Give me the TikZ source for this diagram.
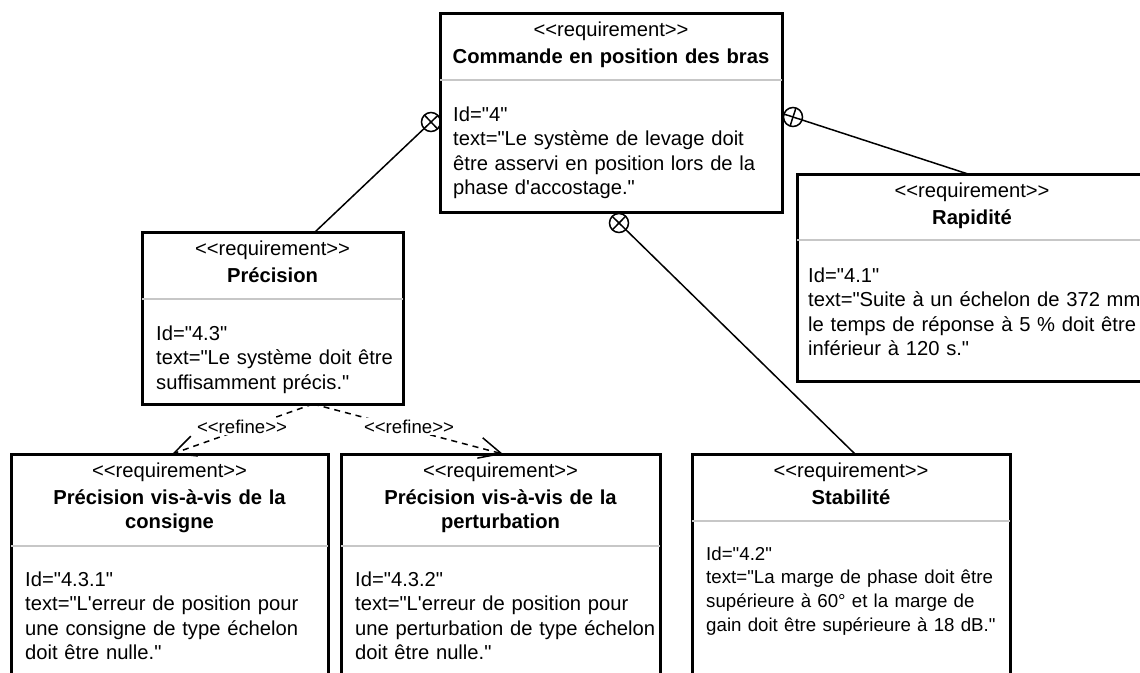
\documentclass[tikz,border=0pt]{standalone}
\usepackage{fontspec}
\setmainfont{Liberation Sans}[Ligatures=TeXOff]
\usetikzlibrary{calc,arrows.meta}

% containment link: circled plus at the parent end, turned along the link
\newcommand\containlink[2]{%
  \draw[link] (#1) circle[radius=9.5];
  \draw[link] ($(#1)!9.5pt!(#2)$) -- ($(#1)!-9.5pt!(#2)$);
  \draw[link] ($(#1)!9.5pt!90:(#2)$) -- ($(#1)!9.5pt!-90:(#2)$);
  \draw[link] ($(#1)!9.5pt!(#2)$) -- (#2);
}

\begin{document}
\begin{tikzpicture}[x=1pt,y=-1pt,
  reqbox/.style={draw=black, line width=3pt, fill=white, anchor=north west,
    inner sep=0pt, outer sep=0pt},
  sepline/.style={draw=black!22, line width=2pt},
  stereo/.style={font=\fontsize{20.2}{24.5}\selectfont, anchor=base, inner sep=0pt},
  reqname/.style={font=\fontsize{20.2}{24.5}\selectfont\bfseries, anchor=base,
    inner sep=0pt, text width=330pt, align=center},
  attrs/.style={font=\fontsize{20.2}{24.5}\selectfont, anchor=base west,
    inner sep=0pt, text width=420pt, align=left},
  smallattrs/.style={attrs, font=\fontsize{18.7}{23.8}\selectfont},
  lbl/.style={font=\fontsize{18.6}{22}\selectfont, anchor=base, fill=white,
    inner xsep=1pt, inner ysep=2pt},
  link/.style={draw=black, line width=1.5pt},
  refine/.style={draw=black, line width=1.5pt, dash pattern=on 6pt off 5pt,
    -{Straight Barb[length=22pt,width=21pt]}},
]
\useasboundingbox (0,0) rectangle (1140,672);
\clip (0,0) rectangle (1140,672);
\fill[white] (0,0) rectangle (1140,672);

% ---- requirement blocks ----
\node[reqbox, minimum width=342pt, minimum height=199pt] (cmd) at (440,13) {};
\node[reqbox, minimum width=261pt, minimum height=172pt] (prec) at (142,232) {};
\node[reqbox, minimum width=350pt, minimum height=207pt] (rap) at (797,174) {};
\node[reqbox, minimum width=317pt, minimum height=246pt] (cons) at (11,454) {};
\node[reqbox, minimum width=319pt, minimum height=246pt] (pert) at (341,454) {};
\node[reqbox, minimum width=318pt, minimum height=246pt] (stab) at (692,454) {};

% header / body separators
\draw[sepline] ($(cmd.north west)+(0,67)$) -- ($(cmd.north east)+(0,67)$);
\draw[sepline] ($(prec.north west)+(0,67)$) -- ($(prec.north east)+(0,67)$);
\draw[sepline] ($(rap.north west)+(0,66)$) -- ($(rap.north east)+(0,66)$);
\draw[sepline] ($(cons.north west)+(0,92)$) -- ($(cons.north east)+(0,92)$);
\draw[sepline] ($(pert.north west)+(0,92)$) -- ($(pert.north east)+(0,92)$);
\draw[sepline] ($(stab.north west)+(0,67)$) -- ($(stab.north east)+(0,67)$);

% ---- Commande en position des bras ----
\node[stereo] (cmd-st) at ($(cmd.north)+(0,23)$) {<<requirement>>};
\node[reqname] (cmd-nm) at ($(cmd.north)+(0,50)$) {Commande en position des bras};
\node[attrs] (cmd-at) at ($(cmd.north west)+(13,108)$)
  {Id="4"\\text="Le système de levage doit\\être asservi en position lors de la\\phase d'accostage."};

% ---- Précision ----
\node[stereo] (prec-st) at ($(prec.north)+(0,23)$) {<<requirement>>};
\node[reqname] (prec-nm) at ($(prec.north)+(0,50)$) {Précision};
\node[attrs] (prec-at) at ($(prec.north west)+(14,108)$)
  {Id="4.3"\\text="Le système doit être\\suffisamment précis."};

% ---- Rapidité ----
\node[stereo] (rap-st) at ($(rap.north)+(0,23)$) {<<requirement>>};
\node[reqname] (rap-nm) at ($(rap.north)+(0,50)$) {Rapidité};
\node[attrs] (rap-at) at ($(rap.north west)+(11,108)$)
  {Id="4.1"\\text="Suite à un échelon de 372 mm\\le temps de réponse à 5 \% doit être\\inférieur à 120 s."};

% ---- Précision vis-à-vis de la consigne ----
\node[stereo] (cons-st) at ($(cons.north)+(0,23)$) {<<requirement>>};
\node[reqname] (cons-nm) at ($(cons.north)+(0,50)$) {Précision vis-à-vis de la\\consigne};
\node[attrs] (cons-at) at ($(cons.north west)+(14,132)$)
  {Id="4.3.1"\\text="L'erreur de position pour\\une consigne de type échelon\\doit être nulle."};

% ---- Précision vis-à-vis de la perturbation ----
\node[stereo] (pert-st) at ($(pert.north)+(0,23)$) {<<requirement>>};
\node[reqname] (pert-nm) at ($(pert.north)+(0,50)$) {Précision vis-à-vis de la\\perturbation};
\node[attrs] (pert-at) at ($(pert.north west)+(14,132)$)
  {Id="4.3.2"\\text="L'erreur de position pour\\une perturbation de type échelon\\doit être nulle."};

% ---- Stabilité ----
\node[stereo] (stab-st) at ($(stab.north)+(0,23)$) {<<requirement>>};
\node[reqname] (stab-nm) at ($(stab.north)+(0,50)$) {Stabilité};
\node[smallattrs] (stab-at) at ($(stab.north west)+(14,106)$)
  {Id="4.2"\\text="La marge de phase doit être\\supérieure à 60° et la marge de\\gain doit être supérieure à 18 dB."};

% ---- containment links ----
\coordinate (cmdL) at ($(cmd.north west)+(-9,109)$);
\coordinate (cmdB) at ($(cmd.south west)+(179,11)$);
\coordinate (cmdR) at ($(cmd.north east)+(11,104)$);
\coordinate (precT) at ($(prec.north west)+(173,0)$);
\coordinate (stabT) at ($(stab.north west)+(163,0)$);
\coordinate (rapT) at ($(rap.north west)+(171,0)$);
\containlink{cmdL}{precT}
\containlink{cmdB}{stabT}
\containlink{cmdR}{rapT}

% ---- refine dependencies ----
\coordinate (precB) at ($(prec.south west)+(171,0)$);
\coordinate (consT) at ($(cons.north west)+(161,0)$);
\coordinate (pertT) at ($(pert.north west)+(162,0)$);
\draw[refine] (precB) -- (consT);
\draw[refine] (precB) -- (pertT);
\node[lbl] (ref1) at (242,433) {<<refine>>};
\node[lbl] (ref2) at (409,433) {<<refine>>};
\end{tikzpicture}
\end{document}
